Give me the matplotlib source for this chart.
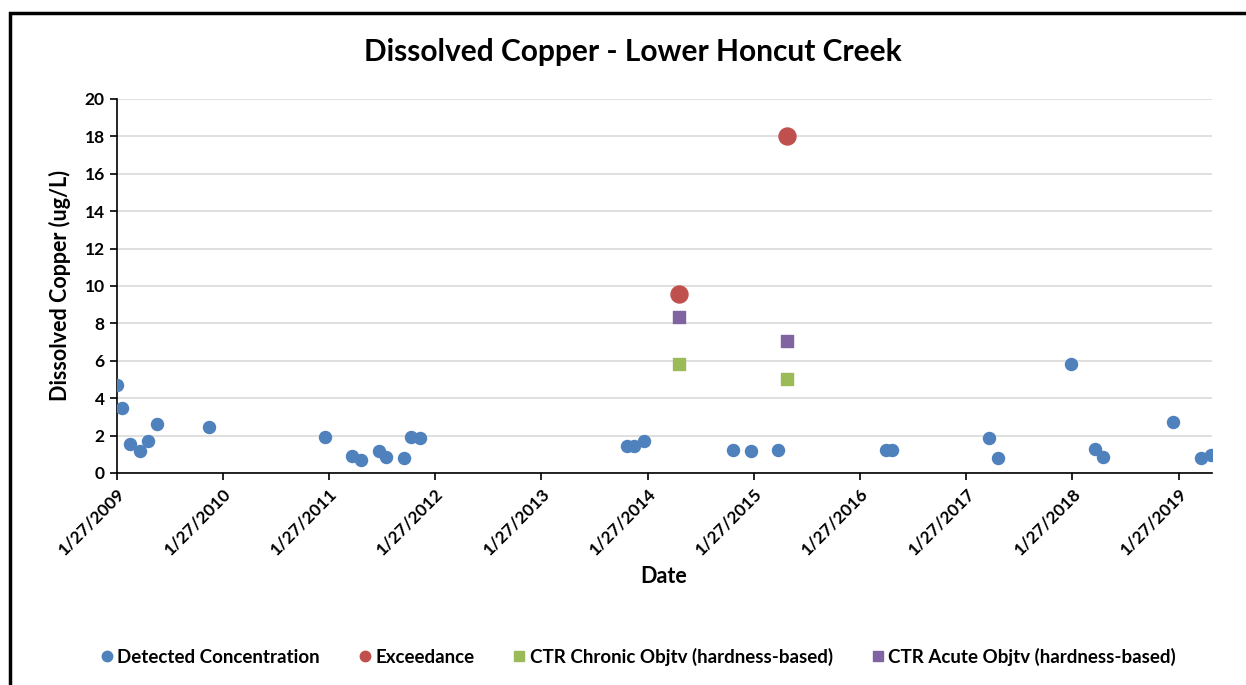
import matplotlib
matplotlib.use("Agg")
import matplotlib.pyplot as plt
from matplotlib.patches import Rectangle
from matplotlib.lines import Line2D
import numpy as np
import pandas as pd

plt.rcParams['font.family'] = ['Lato', 'DejaVu Sans']

# detected concentrations (ug/L)
det_dates = pd.to_datetime([
    "2009-01-27", "2009-02-14", "2009-03-14", "2009-04-18", "2009-05-16", "2009-06-15",
    "2009-12-11", "2011-01-15", "2011-04-17", "2011-05-17", "2011-07-18", "2011-08-12",
    "2011-10-14", "2011-11-07", "2011-12-08", "2013-11-17", "2013-12-12", "2014-01-15",
    "2014-11-17", "2015-01-18", "2015-04-20", "2016-04-25", "2016-05-15", "2017-04-15",
    "2017-05-15", "2018-01-22", "2018-04-15", "2018-05-13", "2019-01-08", "2019-04-14",
    "2019-05-19",
])
det_vals = [4.7, 3.5, 1.55, 1.2, 1.7, 2.6,
            2.45, 1.9, 0.9, 0.7, 1.2, 0.85,
            0.8, 1.9, 1.85, 1.45, 1.45, 1.7,
            1.25, 1.15, 1.25, 1.25, 1.25, 1.85,
            0.8, 5.85, 1.3, 0.85, 2.75, 0.8,
            0.95]

exc_dates = pd.to_datetime(["2014-05-15", "2015-05-20"])
exc_vals = [9.55, 18.0]

chronic_vals = [5.85, 5.0]
acute_vals = [8.35, 7.05]

names = ["Detected Concentration", "Exceedance",
         "CTR Chronic Objtv (hardness-based)", "CTR Acute Objtv (hardness-based)"]
colors = ["#4F81BD", "#C0504D", "#9BBB59", "#8064A2"]

fig = plt.figure(figsize=(12.46, 6.85), dpi=100)
ax = fig.add_axes([0.0935, 0.3095, 0.879, 0.546])

ax.scatter(det_dates, det_vals, s=75, color=colors[0], zorder=3)
ax.scatter(exc_dates, exc_vals, s=150, color=colors[1], zorder=3)
ax.scatter(exc_dates, chronic_vals, s=64, marker="s", color=colors[2], zorder=3)
ax.scatter(exc_dates, acute_vals, s=64, marker="s", color=colors[3], zorder=3)

ax.set_xlim(pd.Timestamp("2009-01-27"), pd.Timestamp("2019-05-21"))
ax.set_ylim(0, 20)
ax.set_yticks(np.arange(0, 21, 2))
ticks = pd.to_datetime([f"{y}-01-27" for y in range(2009, 2020)])
ax.set_xticks(ticks)
ax.set_xticklabels([f"1/27/{t.year}" for t in ticks], rotation=45, ha="right",
                   rotation_mode="anchor", fontsize=12.5, fontweight="bold")
for lbl in ax.get_yticklabels():
    lbl.set_fontsize(12.5)
    lbl.set_fontweight("bold")

ax.grid(axis="y", color="#D9D9D9", linewidth=1.2)
ax.set_axisbelow(True)
for s in ["top", "right"]:
    ax.spines[s].set_visible(False)
ax.spines["left"].set_linewidth(1.2)
ax.spines["bottom"].set_linewidth(1.2)
ax.tick_params(axis="both", direction="out", length=5, width=1.2)
ax.tick_params(axis="x", pad=4)

ax.set_xlabel("Date", fontsize=15.5, fontweight="bold", labelpad=6)
ax.set_ylabel("Dissolved Copper (ug/L)", fontsize=15.5, fontweight="bold", labelpad=10)
fig.text(0.508, 0.924, "Dissolved Copper - Lower Honcut Creek", ha="center", va="center",
         fontsize=21.5, fontweight="bold")

handles = [Line2D([], [], linestyle="none", marker=m, markersize=ms, color=c)
           for m, ms, c in zip(["o", "o", "s", "s"], [7.5, 7.5, 7, 7], colors)]
fig.legend(handles, names, loc="center", bbox_to_anchor=(0.511, 0.041), ncol=4,
           frameon=False, prop={"weight": "bold", "size": 13.5}, handletextpad=0.05,
           handlelength=1.0, columnspacing=1.9)

fig.patches.append(Rectangle((9.5 / 1246, -0.01), 1.02, 1 - 12.5 / 685 + 0.01,
                             transform=fig.transFigure, fill=False, edgecolor="black",
                             linewidth=2.5, zorder=10))

fig.savefig("out.png", dpi=100)
